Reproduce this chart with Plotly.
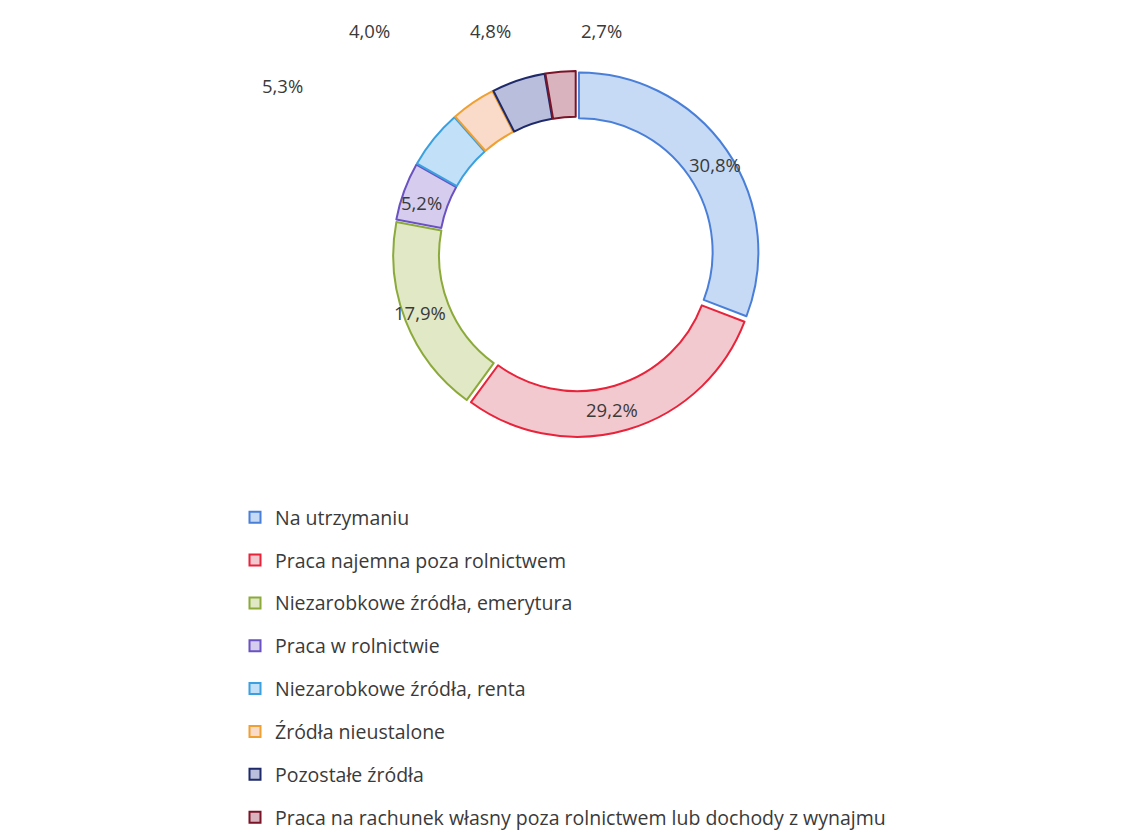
import plotly.graph_objects as go

# ---- data ----
categories = [
    "Na utrzymaniu",
    "Praca najemna poza rolnictwem",
    "Niezarobkowe źródła, emerytura",
    "Praca w rolnictwie",
    "Niezarobkowe źródła, renta",
    "Źródła nieustalone",
    "Pozostałe źródła",
    "Praca na rachunek własny poza rolnictwem lub dochody z wynajmu",
]
values = [30.8, 29.2, 17.9, 5.2, 5.3, 4.0, 4.8, 2.7]

fill_colors = ["#c6daf6", "#f3c9d0", "#e1e8c6", "#d6cdee", "#c2e0f7", "#fadac8", "#b8bedb", "#d9b3bd"]
line_colors = ["#4a7fd8", "#e8233a", "#8caa3a", "#6a52c2", "#3aa0e0", "#f0a030", "#1f2a6a", "#7a1428"]

# label positions in pixels (centre of text), page has an 8px body margin
OFF = 8
label_px = [(715, 165), (612, 410), (420, 313), (421, 202), (282, 85), (369, 30), (490, 30), (601, 30)]

W, H = 1140, 833
cx, cy, R = 576 - OFF, 254 - OFF, 183

fig = go.Figure()
fig.add_trace(go.Pie(
    labels=categories,
    values=values,
    sort=False,
    direction="clockwise",
    rotation=0,
    hole=0.745,
    pull=[0.02] * len(values),
    marker=dict(colors=fill_colors, line=dict(color=line_colors, width=2)),
    textinfo="none",
    hoverinfo="label+percent",
    showlegend=False,
    domain=dict(x=[(cx - R) / W, (cx + R) / W], y=[(H - cy - R) / H, (H - cy + R) / H]),
))

for i, (cat, fc, lc) in enumerate(zip(categories, fill_colors, line_colors)):
    fig.add_trace(go.Scatter(
        x=[None], y=[None], mode="markers", name=cat,
        legendgroup=f"g{i}",
        marker=dict(symbol="square", size=11, color=fc, line=dict(color=lc, width=2)),
        hoverinfo="skip",
    ))

font_family = "'Open Sans', Lato, sans-serif"
for v, (px, py) in zip(values, label_px):
    fig.add_annotation(
        x=(px - OFF) / W, y=1 - (py - OFF) / H, xref="paper", yref="paper",
        text=f"{v:.1f}".replace(".", ",") + "%",
        showarrow=False, xanchor="center", yanchor="middle",
        font=dict(family=font_family, size=18.5, color="#3a3a3a"),
    )

fig.update_layout(
    width=W, height=H,
    margin=dict(l=0, r=0, t=0, b=0),
    paper_bgcolor="white", plot_bgcolor="white",
    xaxis=dict(visible=False), yaxis=dict(visible=False),
    legend=dict(
        x=(235 - OFF) / W, y=1 - (498 - OFF) / H, xanchor="left", yanchor="top",
        font=dict(family=font_family, size=19.5, color="#3a3a3a"),
        tracegroupgap=14.5,
        bgcolor="rgba(0,0,0,0)",
    ),
    font=dict(family=font_family),
)

fig.write_html("out.html")
